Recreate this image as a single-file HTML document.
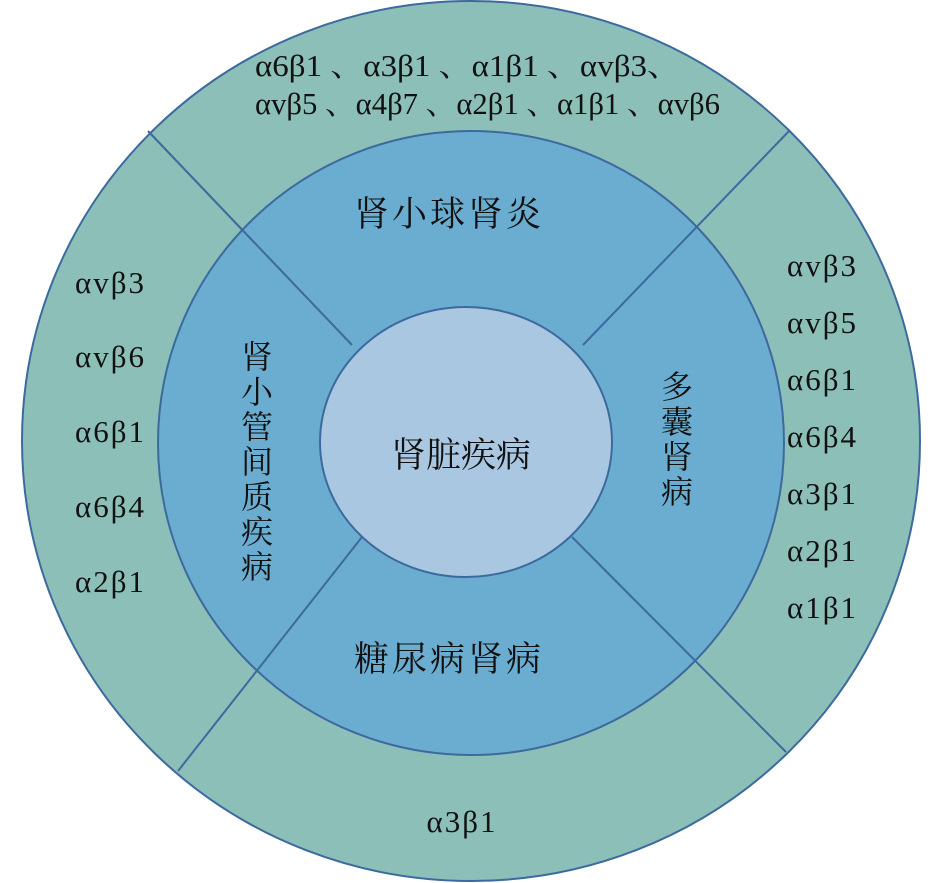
<!DOCTYPE html>
<html><head><meta charset="utf-8"><style>
html,body{margin:0;padding:0;background:#fff;}
svg{display:block;}
text{font-family:"Liberation Serif","Noto Serif CJK SC",serif;fill:#111;}
</style></head><body>
<svg width="941" height="883" viewBox="0 0 941 883" xmlns="http://www.w3.org/2000/svg">
<ellipse cx="471" cy="441" rx="449" ry="440" fill="#8cbfb8" stroke="#3d6a9e" stroke-width="2"/>
<ellipse cx="471" cy="443" rx="313" ry="312" fill="#6badd0" stroke="#3d6a9e" stroke-width="2"/>
<line x1="148" y1="131" x2="352" y2="345" stroke="#3d6a9e" stroke-width="2"/>
<line x1="790" y1="130" x2="583" y2="345" stroke="#3d6a9e" stroke-width="2"/>
<line x1="178" y1="771" x2="362" y2="537" stroke="#3d6a9e" stroke-width="2"/>
<line x1="786" y1="752" x2="572" y2="537" stroke="#3d6a9e" stroke-width="2"/>
<ellipse cx="466" cy="442" rx="146" ry="135" fill="#a9c7e0" stroke="#3d6a9e" stroke-width="2"/>
<g font-size="30.5">
<text x="255" y="76" textLength="425" lengthAdjust="spacingAndGlyphs">α6β1 、α3β1 、α1β1 、αvβ3、</text>
<text x="255" y="114" textLength="465" lengthAdjust="spacingAndGlyphs">αvβ5 、α4β7 、α2β1 、α1β1 、αvβ6</text>
</g>
<g font-size="31" letter-spacing="2">
<text x="75" y="293">αvβ3</text>
<text x="75" y="367">αvβ6</text>
<text x="75" y="442">α6β1</text>
<text x="75" y="517">α6β4</text>
<text x="75" y="592">α2β1</text>
<text x="787" y="276">αvβ3</text>
<text x="787" y="333">αvβ5</text>
<text x="787" y="390">α6β1</text>
<text x="787" y="447">α6β4</text>
<text x="787" y="504">α3β1</text>
<text x="787" y="561">α2β1</text>
<text x="787" y="618">α1β1</text>
<text x="462" y="832" text-anchor="middle">α3β1</text>
</g>
<g font-size="35" text-anchor="middle">
<text x="449" y="226" letter-spacing="3">肾小球肾炎</text>
<text x="449" y="671" letter-spacing="3">糖尿病肾病</text>
<text x="461" y="467">肾脏疾病</text>
</g>
<g font-size="32" text-anchor="middle">
<text x="257" y="368">肾</text><text x="257" y="403">小</text><text x="257" y="438">管</text><text x="257" y="473">间</text><text x="257" y="508">质</text><text x="257" y="543">疾</text><text x="257" y="578">病</text>
<text x="677" y="398">多</text><text x="677" y="433">囊</text><text x="677" y="468">肾</text><text x="677" y="503">病</text>
</g>
</svg>
</body></html>
